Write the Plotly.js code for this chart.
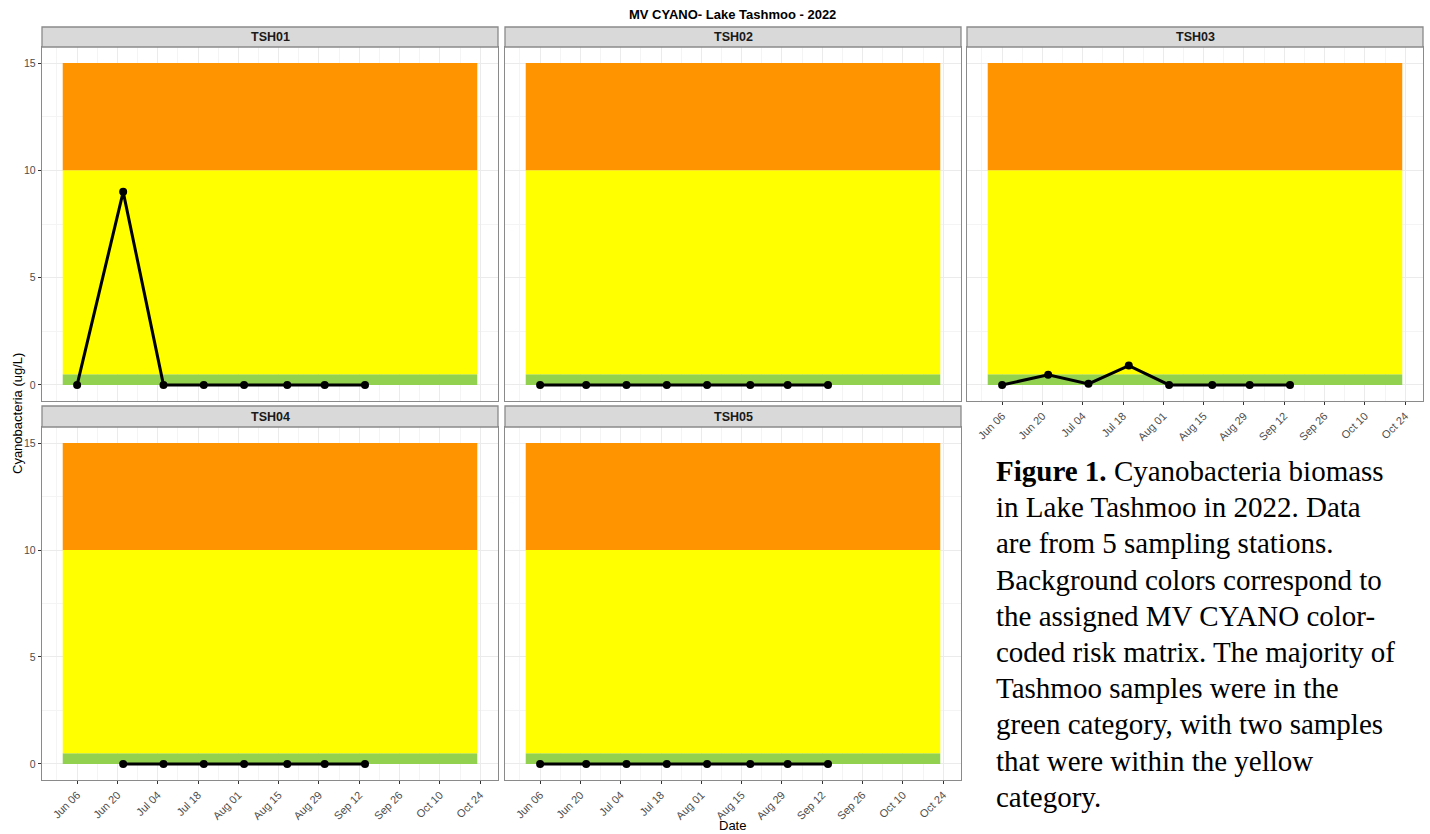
<!DOCTYPE html>
<html>
<head>
<meta charset="utf-8">
<script src="https://cdn.plot.ly/plotly-3.0.1.min.js"></script>
<style>
  html, body { margin: 0; padding: 0; background: #ffffff; }
  #chart { width: 1430px; height: 834px; }
</style>
</head>
<body>
<div id="chart"></div>
<script>
// ---------- data ----------
const stations = ['TSH01', 'TSH02', 'TSH03', 'TSH04', 'TSH05'];
const sampleDates = ['2022-06-06', '2022-06-22', '2022-07-06', '2022-07-20',
                     '2022-08-03', '2022-08-18', '2022-08-31', '2022-09-14'];
const tsh01 = [0, 9, 0, 0, 0, 0, 0, 0];
const tsh02 = [0, 0, 0, 0, 0, 0, 0, 0];
const tsh03 = [0, 0.47, 0.05, 0.9, 0, 0, 0, 0];
const tsh04 = [null, 0, 0, 0, 0, 0, 0, 0];
const tsh05 = [0, 0, 0, 0, 0, 0, 0, 0];
const stationValues = [tsh01, tsh02, tsh03, tsh04, tsh05];

// risk-matrix bands
const bandStart = '2022-06-01';
const bandEnd = '2022-10-23';
const bandLevels = [0, 0.5, 10, 15];
const bandColors = ['#92D050', '#FFFF00', '#FF9300'];

const titleText = 'MV CYANO- Lake Tashmoo - 2022';
const yTitle = 'Cyanobacteria (ug/L)';
const xTitle = 'Date';
const captionLines = [
  '<b>Figure 1.</b> Cyanobacteria biomass',
  'in Lake Tashmoo in 2022. Data',
  'are from 5 sampling stations.',
  'Background colors correspond to',
  'the assigned MV CYANO color-',
  'coded risk matrix. The majority of',
  'Tashmoo samples were in the',
  'green category, with two samples',
  'that were within the yellow',
  'category.'
];

// ---------- layout geometry (pixels) ----------
const W = 1430, H = 834;
const cols = [[42, 498], [505, 961], [967, 1423]];
const rows = [{strip: [27, 47], plot: [47, 401]}, {strip: [406, 427], plot: [427, 780]}];
const panelPos = [[0, 0], [0, 1], [0, 2], [1, 0], [1, 1]];
const px = v => v / W;
const py = v => 1 - v / H;

const DAY = 86400000;
const t0 = new Date(bandStart + 'T00:00:00Z').getTime();
const t1 = new Date(bandEnd + 'T00:00:00Z').getTime();
const pad = (t1 - t0) * 0.05;
const iso = t => new Date(t).toISOString().slice(0, 19).replace('T', ' ');
const xRange = [iso(t0 - pad), iso(t1 + pad)];
const yPad = (bandLevels[3] - bandLevels[0]) * 0.05;
const yRange = [bandLevels[0] - yPad, bandLevels[3] + yPad];

const borderColor = '#8a8a8a';
const sans = 'Liberation Sans, Arial, sans-serif';
const xTickFont = {family: sans, size: 11, color: '#4d4d4d'};
const yTickFont = {family: sans, size: 10.5, color: '#4d4d4d'};

const traces = [];
const shapes = [];
const annotations = [];
const layout = {
  width: W, height: H,
  margin: {l: 0, r: 0, t: 0, b: 0},
  paper_bgcolor: '#ffffff',
  plot_bgcolor: '#ffffff',
  showlegend: false,
  font: {family: sans}
};

stations.forEach((name, i) => {
  const [r, c] = panelPos[i];
  const n = i + 1;
  const xa = 'x' + (n === 1 ? '' : n);
  const ya = 'y' + (n === 1 ? '' : n);
  const xKey = 'xaxis' + (n === 1 ? '' : n);
  const yKey = 'yaxis' + (n === 1 ? '' : n);
  const showX = (r === 1) || (c === 2);
  const showY = (c === 0);

  layout[xKey] = {
    domain: [px(cols[c][0]), px(cols[c][1])],
    anchor: ya,
    type: 'date',
    range: xRange,
    tick0: '2022-06-06',
    dtick: 14 * DAY,
    tickformat: '%b %d',
    tickangle: -45,
    ticks: showX ? 'outside' : '',
    ticklen: 3,
    tickcolor: '#333333',
    showticklabels: showX,
    tickfont: xTickFont,
    showgrid: true,
    gridcolor: '#ebebeb',
    gridwidth: 1,
    minor: {dtick: 7 * DAY, tick0: '2022-06-06', showgrid: true, gridcolor: '#f4f4f4', gridwidth: 1},
    showline: true, mirror: true, linecolor: borderColor, linewidth: 1.3,
    zeroline: false,
    fixedrange: true
  };
  layout[yKey] = {
    domain: [py(rows[r].plot[1]), py(rows[r].plot[0])],
    anchor: xa,
    range: yRange,
    tick0: 0,
    dtick: 5,
    ticks: showY ? 'outside' : '',
    ticklen: 3,
    tickcolor: '#333333',
    showticklabels: showY,
    tickfont: yTickFont,
    showgrid: true,
    gridcolor: '#ebebeb',
    gridwidth: 1,
    minor: {dtick: 2.5, showgrid: true, gridcolor: '#f4f4f4', gridwidth: 1},
    showline: true, mirror: true, linecolor: borderColor, linewidth: 1.3,
    zeroline: false,
    fixedrange: true
  };

  // background risk bands
  for (let b = 0; b < bandColors.length; b++) {
    shapes.push({
      type: 'rect', xref: xa, yref: ya, layer: 'between',
      x0: bandStart, x1: bandEnd, y0: bandLevels[b], y1: bandLevels[b + 1],
      fillcolor: bandColors[b], line: {width: 0}
    });
  }

  // strip header
  shapes.push({
    type: 'rect', xref: 'paper', yref: 'paper', layer: 'above',
    x0: px(cols[c][0]), x1: px(cols[c][1]),
    y0: py(rows[r].strip[1]), y1: py(rows[r].strip[0]),
    fillcolor: '#d9d9d9', line: {color: borderColor, width: 1.3}
  });
  annotations.push({
    xref: 'paper', yref: 'paper',
    x: px((cols[c][0] + cols[c][1]) / 2),
    y: py((rows[r].strip[0] + rows[r].strip[1]) / 2),
    xanchor: 'center', yanchor: 'middle',
    text: '<b>' + name + '</b>', showarrow: false,
    font: {family: sans, size: 12.5, color: '#1a1a1a'}
  });

  traces.push({
    type: 'scatter', mode: 'lines+markers',
    x: sampleDates, y: stationValues[i],
    xaxis: xa, yaxis: ya,
    connectgaps: false,
    line: {color: '#000000', width: 3},
    marker: {color: '#000000', size: 8},
    hoverinfo: 'x+y'
  });
});

// titles
annotations.push({
  xref: 'paper', yref: 'paper', x: px(732), y: py(14),
  xanchor: 'center', yanchor: 'middle', showarrow: false,
  text: '<b>' + titleText + '</b>',
  font: {family: sans, size: 13, color: '#000000'}
});
annotations.push({
  xref: 'paper', yref: 'paper', x: px(732), y: py(825),
  xanchor: 'center', yanchor: 'middle', showarrow: false,
  text: xTitle,
  font: {family: sans, size: 13, color: '#000000'}
});
annotations.push({
  xref: 'paper', yref: 'paper', x: px(17), y: py(414),
  xanchor: 'center', yanchor: 'middle', showarrow: false,
  textangle: -90,
  text: yTitle,
  font: {family: sans, size: 13, color: '#000000'}
});

// caption, one annotation per line
captionLines.forEach((line, k) => {
  const baseline = 481 + k * 36.2;
  annotations.push({
    xref: 'paper', yref: 'paper', x: px(994), y: py(baseline + 8),
    xanchor: 'left', yanchor: 'bottom', showarrow: false,
    text: line,
    font: {family: 'Liberation Serif, Times New Roman, serif', size: 29, color: '#000000'}
  });
});

layout.shapes = shapes;
layout.annotations = annotations;

Plotly.newPlot('chart', traces, layout, {staticPlot: true, displayModeBar: false});
</script>
</body>
</html>
